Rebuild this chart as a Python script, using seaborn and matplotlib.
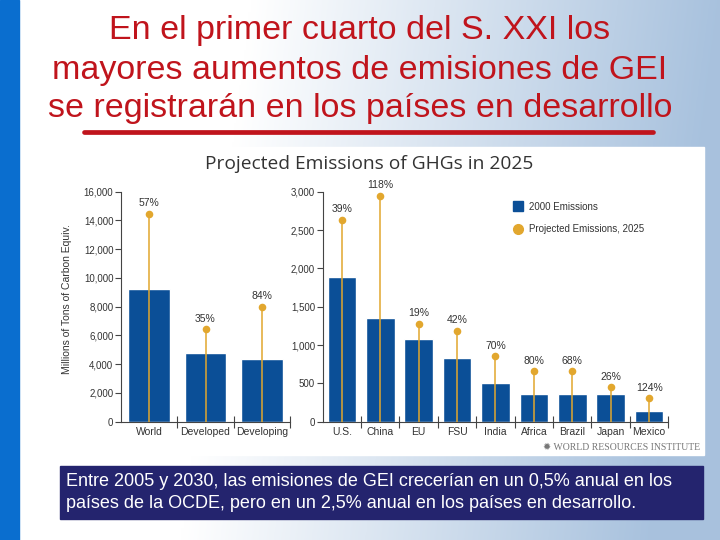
import numpy as np
import matplotlib
matplotlib.use("Agg")
import matplotlib.pyplot as plt
from matplotlib.patches import Rectangle
from matplotlib.lines import Line2D
import seaborn as sns

# datos (millones de t de carbono equiv.)
world_regions = ["World", "Developed", "Developing"]
world_2000 = [9200, 4750, 4350]
world_2025 = [14450, 6420, 8000]
world_pct = ["57%", "35%", "84%"]

countries = ["U.S.", "China", "EU", "FSU", "India", "Africa", "Brazil", "Japan", "Mexico"]
country_2000 = [1890, 1355, 1085, 832, 507, 360, 360, 360, 135]
country_2025 = [2636, 2950, 1280, 1183, 854, 655, 655, 451, 308]
country_pct = ["39%", "118%", "19%", "42%", "70%", "80%", "68%", "26%", "124%"]

left_ticks = [0, 2000, 4000, 6000, 8000, 10000, 12000, 14000, 16000]
right_ticks = [0, 500, 1000, 1500, 2000, 2500, 3000]

title_lines = ["En el primer cuarto del S. XXI los",
               "mayores aumentos de emisiones de GEI",
               "se registrarán en los países en desarrollo"]
note_lines = ["Entre 2005 y 2030, las emisiones de GEI crecerían en un 0,5% anual en los",
              "países de la OCDE, pero en un 2,5% anual en los países en desarrollo."]

BLUE = "#0B4F97"
GOLD = "#E2A72E"
RED = "#C0141C"
NAVY = "#24246E"

sns.set_theme(style="white")
plt.rcParams["font.family"] = ["Liberation Sans", "DejaVu Sans"]
narrow = ["Liberation Sans Narrow", "Liberation Sans", "DejaVu Sans"]

fig = plt.figure(figsize=(7.2, 5.4), dpi=100)
W, H = 720, 540


def fx(px):
    return px / W


def fy(py):
    return 1 - py / H


# fondo en degradado
bg = fig.add_axes([0, 0, 1, 1], zorder=-10)
xx = np.linspace(0, 1, 300)
yy = np.linspace(0, 1, 200)
X, Y = np.meshgrid(xx, yy)
t = np.clip((X - 0.35) / 0.65 + 0.15 * Y, 0, 1)
c0 = np.array([1.0, 1.0, 1.0])
c1 = np.array([0.66, 0.76, 0.87])
img = c0 * (1 - t[..., None]) + c1 * t[..., None]
bg.imshow(img, extent=[0, 1, 0, 1], aspect="auto", origin="upper")
bg.set_xlim(0, 1)
bg.set_ylim(0, 1)
bg.axis("off")

# franja azul a la izquierda
fig.patches.append(Rectangle((0, 0), fx(19), 1, transform=fig.transFigure,
                             color="#0A6ECF", zorder=-5))

# titulo
for i, line in enumerate(title_lines):
    fig.text(0.5, fy(31 + i * 39), line, ha="center", va="center",
             fontsize=24.5, color=RED)
fig.add_artist(Line2D([fx(84), fx(653)], [fy(132), fy(132)], color=RED,
                      lw=3.4, transform=fig.transFigure))

# panel blanco del grafico
fig.patches.append(Rectangle((fx(57), fy(455)), fx(704) - fx(57), fy(147) - fy(455),
                             transform=fig.transFigure, color="white", zorder=-4))

fig.text(fx(369), fy(164), "Projected Emissions of GHGs in 2025", ha="center",
         va="center", fontsize=13.8, color="#333333", family=["Open Sans", "DejaVu Sans"])

ax_l = fig.add_axes([fx(121), fy(421.7), fx(290) - fx(121), fy(191.7) - fy(421.7)])
ax_r = fig.add_axes([fx(322.7), fy(421.7), fx(668.3) - fx(322.7), fy(191.7) - fy(421.7)])


def draw_panel(ax, cats, v2000, v2025, pcts, ymax, ticks):
    ax.patch.set_alpha(0)
    sns.barplot(x=cats, y=v2000, color=BLUE, saturation=1, width=0.74, ax=ax, zorder=2)
    pos = np.arange(len(cats))
    ax.vlines(pos, 0, v2025, color=GOLD, lw=1.1, zorder=3)
    ax.scatter(pos, v2025, s=30, color=GOLD, zorder=4, linewidths=0)
    for p, v, lab in zip(pos, v2025, pcts):
        ax.annotate(lab, (p, v), xytext=(0, 4), textcoords="offset points",
                    ha="center", va="bottom", fontsize=7.5, color="#333333",
                    family=narrow)
    ax.set_xlim(-0.5, len(cats) - 0.5)
    ax.set_ylim(0, ymax)
    ax.set_yticks(ticks)
    ax.set_yticklabels([f"{v:,}" for v in ticks], family=narrow, fontsize=7, color="#333333")
    ax.set_xticks(pos)
    ax.set_xticklabels(cats, family=narrow, fontsize=7.5, color="#333333")
    ax.set_xticks(np.arange(len(cats)) + 0.5, minor=True)
    ax.tick_params(axis="x", which="major", length=0, pad=4)
    ax.tick_params(axis="x", which="minor", direction="inout", length=8, width=0.8,
                   color="#444444", bottom=True)
    ax.tick_params(axis="y", direction="out", length=4, width=0.8, color="#444444",
                   left=True, pad=1.5)
    for s in ["top", "right"]:
        ax.spines[s].set_visible(False)
    for s in ["left", "bottom"]:
        ax.spines[s].set_color("#444444")
        ax.spines[s].set_linewidth(0.8)
    ax.set_xlabel("")
    ax.set_ylabel("")
    ax.grid(False)


draw_panel(ax_l, world_regions, world_2000, world_2025, world_pct, 16000, left_ticks)
draw_panel(ax_r, countries, country_2000, country_2025, country_pct, 3000, right_ticks)

fig.text(fx(67), fy(299), "Millions of Tons of Carbon Equiv.", rotation=90,
         ha="center", va="center", fontsize=7.5, color="#333333", family=narrow)

handles = [Line2D([], [], marker="s", ls="", color=BLUE, markersize=7),
           Line2D([], [], marker="o", ls="", color=GOLD, markersize=7)]
fig.legend(handles, ["2000 Emissions", "Projected Emissions, 2025"],
           loc="upper left", bbox_to_anchor=(fx(503), fy(193)), frameon=False,
           prop={"family": narrow, "size": 7}, labelspacing=1.3,
           handletextpad=0.6, handlelength=1.2, labelcolor="#333333")

fig.text(fx(700), fy(447), "\u2739 WORLD RESOURCES INSTITUTE", ha="right", va="center",
         fontsize=7, color="#777777",
         family=["Liberation Serif", "DejaVu Serif", "DejaVu Sans"])

# recuadro de nota
fig.patches.append(Rectangle((fx(60), fy(519)), fx(703) - fx(60), fy(466) - fy(519),
                             transform=fig.transFigure, color=NAVY, zorder=1))
for i, line in enumerate(note_lines):
    fig.text(fx(66), fy(482 + i * 22), line, ha="left", va="center",
             fontsize=13, color="white", zorder=2)

fig.savefig("out.png", dpi=100)
